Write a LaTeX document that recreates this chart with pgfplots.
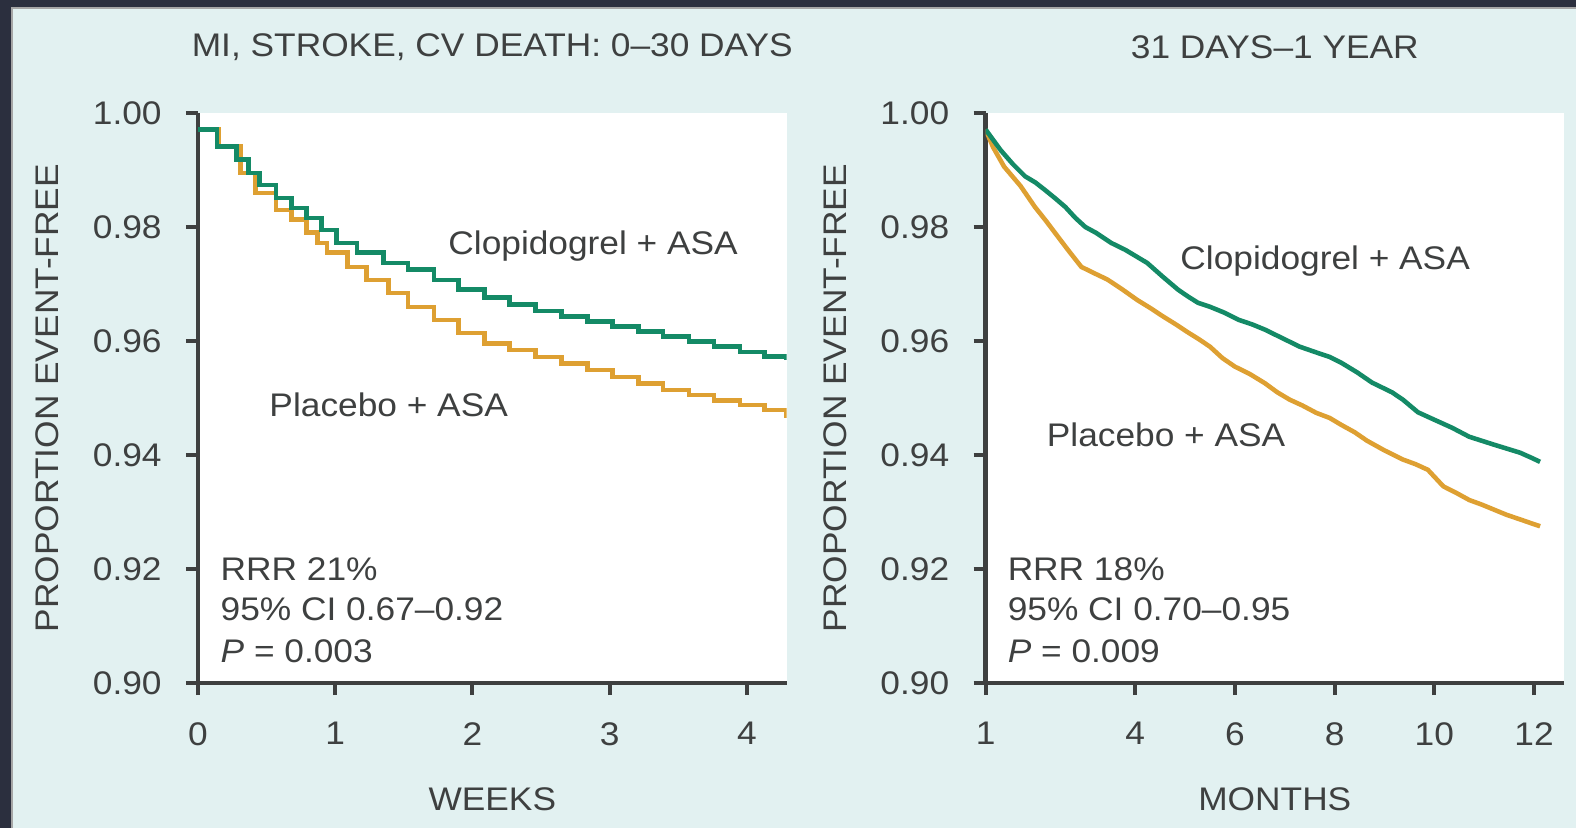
\documentclass[border=0pt]{standalone}
\usepackage{pgfplots}
\pgfplotsset{compat=1.18}
\usepackage{fontspec}
\setmainfont{Liberation Sans}[FakeStretch=1.08]
\definecolor{bgc}{RGB}{226,241,241}
\definecolor{frm}{RGB}{43,47,62}
\definecolor{grn}{RGB}{20,138,102}
\definecolor{org}{RGB}{222,160,50}
\definecolor{txt}{RGB}{62,64,64}
\pgfplotsset{
  km/.style={
    scale only axis,
    ymin=0.90, ymax=1.00,
    ytick={0.90,0.92,0.94,0.96,0.98,1.00},
    yticklabel style={/pgf/number format/fixed,/pgf/number format/fixed zerofill,/pgf/number format/precision=2, xshift=-1.2mm},
    xticklabel style={yshift=-1.5mm},
    /pgf/number format/assume math mode=true,
    axis x line*=bottom, axis y line*=left,
    axis line style={line width=1.3pt, color=txt},
    tick style={line width=1.1pt, color=txt},
    major tick length=1.2mm, tick align=outside,
    axis background/.style={fill=white},
    font=\fontsize{9}{10}\selectfont,
    every tick label/.append style={text=txt},
    ticklabel style={font=\fontsize{9.3}{10}\selectfont},
    label style={font=\fontsize{9.3}{10}\selectfont, text=txt},
    title style={font=\fontsize{9.3}{10}\selectfont, text=txt, anchor=center},
    clip mode=individual,
  }
}
\begin{document}
\begin{tikzpicture}
\fill[bgc] (0,0) rectangle (157.6mm,82.8mm);
\fill[frm] (0,0) rectangle (1.1mm,82.8mm);
\fill[frm] (0,82.1mm) rectangle (157.6mm,82.8mm);
\draw[gray!70, line width=0.3pt] (1.2mm,0) -- (1.2mm,82.0mm) -- (157.6mm,82.0mm);
\begin{axis}[km,
  at={(19.8mm,14.5mm)}, anchor=south west,
  width=58.86mm, height=57.0mm,
  xmin=0, xmax=4.29, xtick={0,1,2,3,4},
  title={MI, STROKE, CV DEATH: 0--30 DAYS},
  title style={at={(axis description cs:0.5,1.079)}, anchor=center},
  xlabel={WEEKS},
  xlabel style={at={(axis description cs:0.5,-0.2035)}, anchor=center},
  ylabel={PROPORTION EVENT-FREE},
  ylabel style={at={(axis description cs:-0.2565,0.5)}, anchor=center},
]
\addplot[const plot, color=org, line width=1.3pt] coordinates {
(0,0.9971) (0.15,0.9941) (0.31,0.9895) (0.42,0.9860) (0.57,0.9830) (0.68,0.9813)
(0.79,0.9790) (0.87,0.9772) (0.94,0.9755) (1.09,0.9730) (1.23,0.9707) (1.39,0.9684)
(1.53,0.9660) (1.72,0.9637) (1.90,0.9614) (2.09,0.9596) (2.27,0.9584) (2.46,0.9572)
(2.65,0.9561) (2.84,0.9549) (3.02,0.9537) (3.21,0.9525) (3.39,0.9514) (3.58,0.9505)
(3.76,0.9496) (3.95,0.9488) (4.13,0.9479) (4.29,0.9465)
};
\addplot[const plot, color=grn, line width=1.3pt] coordinates {
(0,0.9971) (0.14,0.9941) (0.28,0.9918) (0.37,0.9895) (0.45,0.9874) (0.57,0.9851)
(0.68,0.9833) (0.79,0.9816) (0.90,0.9795) (1.01,0.9772) (1.16,0.9755) (1.35,0.9737)
(1.53,0.9725) (1.72,0.9707) (1.90,0.9690) (2.09,0.9676) (2.27,0.9664) (2.46,0.9653)
(2.65,0.9643) (2.84,0.9634) (3.02,0.9625) (3.21,0.9617) (3.39,0.9608) (3.58,0.9599)
(3.76,0.9590) (3.95,0.9581) (4.13,0.9573) (4.29,0.9567)
};
\node[text=txt, font=\fontsize{9.3}{10}\selectfont] at (axis cs:2.88,0.9767) {Clopidogrel + ASA};
\node[text=txt, font=\fontsize{9.3}{10}\selectfont] at (axis cs:1.39,0.9488) {Placebo + ASA};
\node[text=txt, anchor=west, inner sep=0pt, font=\fontsize{9.3}{10}\selectfont] at (axis cs:0.16,0.9199) {RRR 21\%};
\node[text=txt, anchor=west, inner sep=0pt, font=\fontsize{9.3}{10}\selectfont] at (axis cs:0.16,0.9129) {95\% CI 0.67--0.92};
\node[text=txt, anchor=west, inner sep=0pt, font=\fontsize{9.3}{10}\selectfont] at (axis cs:0.16,0.9055) {\textit{P} = 0.003};
\end{axis}
\begin{axis}[km,
  at={(98.56mm,14.5mm)}, anchor=south west,
  width=57.84mm, height=57.0mm,
  xmin=1, xmax=12.6, xtick={1,4,6,8,10,12},
  title={31 DAYS--1 YEAR},
  title style={at={(axis description cs:0.5,1.079)}, anchor=center},
  xlabel={MONTHS},
  xlabel style={at={(axis description cs:0.5,-0.2035)}, anchor=center},
  ylabel={PROPORTION EVENT-FREE},
  ylabel style={at={(axis description cs:-0.2593,0.5)}, anchor=center},
]
\addplot[color=org, line width=1.3pt] coordinates {
(1.00,0.9971) (1.15,0.9940) (1.37,0.9906) (1.70,0.9872) (1.99,0.9835) (2.20,0.9812) (2.39,0.9790) (2.65,0.9760) (2.92,0.9730)
(3.20,0.9718) (3.44,0.9708) (3.75,0.9690) (4.04,0.9672) (4.30,0.9658) (4.56,0.9643) (4.80,0.9630) (5.06,0.9615) (5.28,0.9603) (5.50,0.9590) (5.75,0.9570) (6.00,0.9555)
(6.30,0.9542) (6.60,0.9526) (6.85,0.9510) (7.10,0.9497) (7.35,0.9487) (7.63,0.9474) (7.90,0.9465) (8.13,0.9453) (8.40,0.9440) (8.65,0.9425) (9.00,0.9408) (9.37,0.9392)
(9.62,0.9384) (9.87,0.9374) (10.18,0.9345) (10.45,0.9333) (10.70,0.9321) (10.95,0.9313) (11.20,0.9304) (11.45,0.9295) (11.72,0.9287) (11.95,0.9280) (12.12,0.9275)
};
\addplot[color=grn, line width=1.3pt] coordinates {
(1.00,0.9971) (1.30,0.9935) (1.55,0.9910) (1.79,0.9889) (2.00,0.9878) (2.19,0.9865) (2.40,0.9850) (2.60,0.9835) (2.80,0.9816) (3.00,0.9800)
(3.21,0.9790) (3.52,0.9772) (3.80,0.9760) (4.03,0.9748) (4.24,0.9737) (4.55,0.9713) (4.86,0.9690)
(5.06,0.9678) (5.26,0.9667) (5.50,0.9660) (5.78,0.9650) (6.08,0.9637) (6.35,0.9629) (6.60,0.9620) (6.95,0.9605) (7.30,0.9590)
(7.63,0.9580) (7.90,0.9572) (8.13,0.9562) (8.45,0.9545) (8.75,0.9527) (9.15,0.9510) (9.37,0.9497) (9.67,0.9475)
(9.97,0.9463) (10.35,0.9448) (10.70,0.9432) (11.20,0.9418) (11.72,0.9404) (11.95,0.9395) (12.12,0.9388)
};
\node[text=txt, font=\fontsize{9.3}{10}\selectfont] at (axis cs:7.81,0.9741) {Clopidogrel + ASA};
\node[text=txt, font=\fontsize{9.3}{10}\selectfont] at (axis cs:4.62,0.9436) {Placebo + ASA};
\node[text=txt, anchor=west, inner sep=0pt, font=\fontsize{9.3}{10}\selectfont] at (axis cs:1.43,0.9199) {RRR 18\%};
\node[text=txt, anchor=west, inner sep=0pt, font=\fontsize{9.3}{10}\selectfont] at (axis cs:1.43,0.9129) {95\% CI 0.70--0.95};
\node[text=txt, anchor=west, inner sep=0pt, font=\fontsize{9.3}{10}\selectfont] at (axis cs:1.43,0.9055) {\textit{P} = 0.009};
\end{axis}
\pgfresetboundingbox
\useasboundingbox (0,0) rectangle (157.6mm,82.8mm);
\end{tikzpicture}
\end{document}
